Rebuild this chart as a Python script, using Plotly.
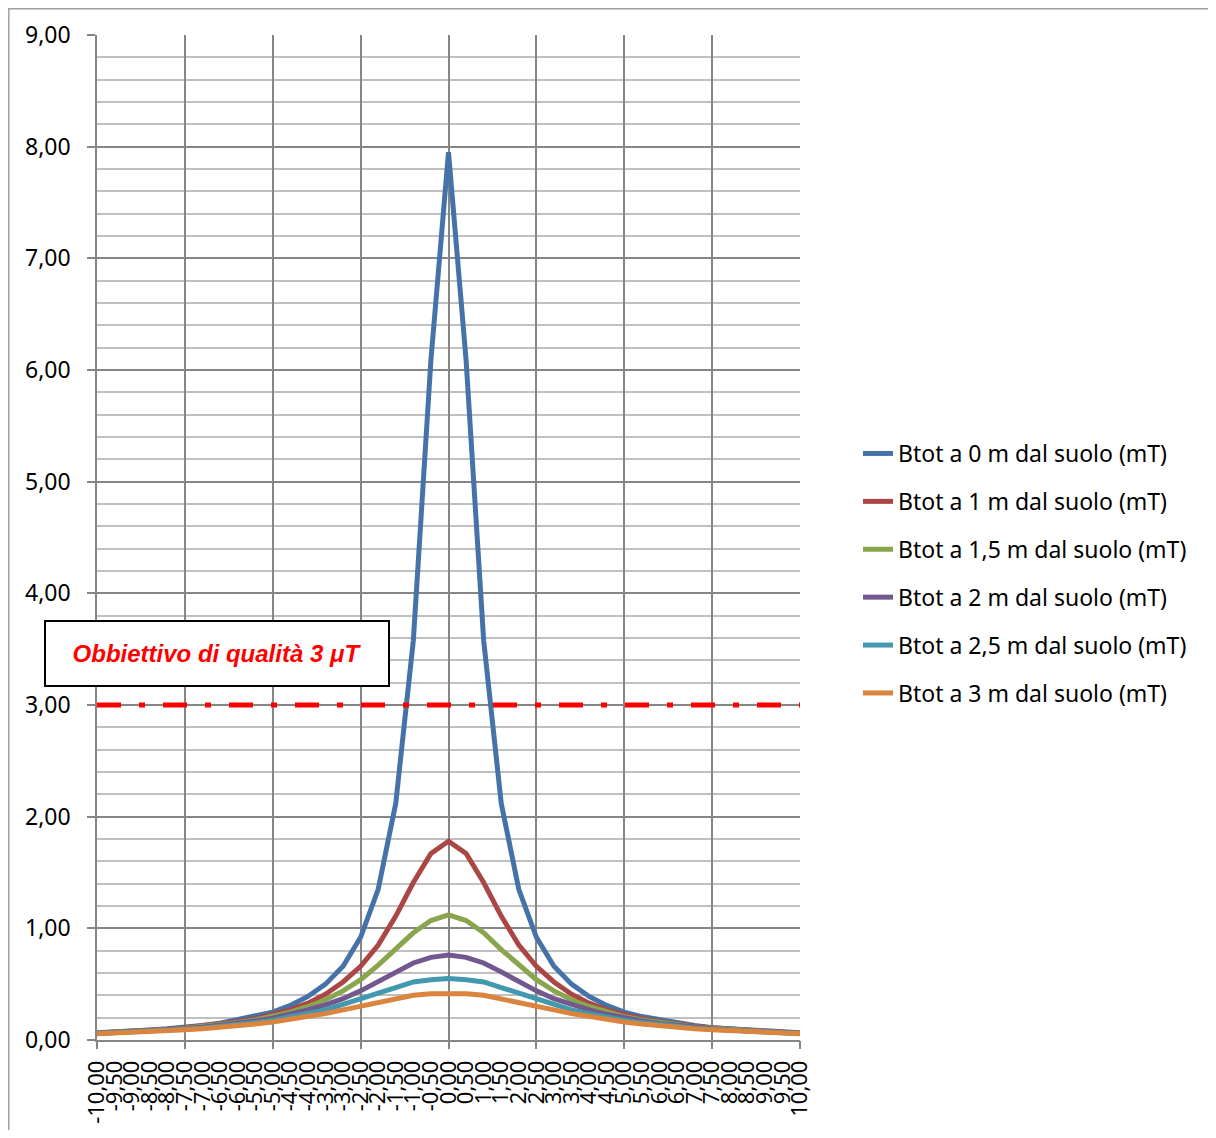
import plotly.graph_objects as go

# ---------------- data ----------------
x_values = [-10.0, -9.5, -9.0, -8.5, -8.0, -7.5, -7.0, -6.5, -6.0, -5.5,
            -5.0, -4.5, -4.0, -3.5, -3.0, -2.5, -2.0, -1.5, -1.0, -0.5,
            0.0, 0.5, 1.0, 1.5, 2.0, 2.5, 3.0, 3.5, 4.0, 4.5,
            5.0, 5.5, 6.0, 6.5, 7.0, 7.5, 8.0, 8.5, 9.0, 9.5, 10.0]

x_labels = ["-10,00", "-9,50", "-9,00", "-8,50", "-8,00", "-7,50", "-7,00", "-6,50", "-6,00", "-5,50",
            "-5,00", "-4,50", "-4,00", "-3,50", "-3,00", "-2,50", "-2,00", "-1,50", "-1,00", "-0,50",
            "0,00", "0,50", "1,00", "1,50", "2,00", "2,50", "3,00", "3,50", "4,00", "4,50",
            "5,00", "5,50", "6,00", "6,50", "7,00", "7,50", "8,00", "8,50", "9,00", "9,50", "10,00"]

series_names = ["Btot a 0 m dal suolo (mT)", "Btot a 1 m dal suolo (mT)",
                "Btot a 1,5 m dal suolo (mT)", "Btot a 2 m dal suolo (mT)",
                "Btot a 2,5 m dal suolo (mT)", "Btot a 3 m dal suolo (mT)"]

b_0m = [0.065, 0.07, 0.08, 0.09, 0.10, 0.11, 0.13, 0.15, 0.18, 0.21,
        0.25, 0.31, 0.39, 0.50, 0.66, 0.92, 1.35, 2.12, 3.58, 6.09,
        7.95,
        6.09, 3.58, 2.12, 1.35, 0.92, 0.66, 0.50, 0.39, 0.31, 0.25,
        0.21, 0.18, 0.15, 0.13, 0.11, 0.10, 0.09, 0.08, 0.07, 0.065]

b_1m = [0.063, 0.069, 0.077, 0.086, 0.096, 0.109, 0.124, 0.14, 0.165, 0.19,
        0.23, 0.27, 0.33, 0.41, 0.52, 0.66, 0.85, 1.11, 1.41, 1.67,
        1.78,
        1.67, 1.41, 1.11, 0.85, 0.66, 0.52, 0.41, 0.33, 0.27, 0.23,
        0.19, 0.165, 0.14, 0.124, 0.109, 0.096, 0.086, 0.077, 0.069, 0.063]

b_15m = [0.062, 0.068, 0.075, 0.084, 0.093, 0.105, 0.119, 0.136, 0.156, 0.18,
         0.21, 0.25, 0.30, 0.36, 0.44, 0.54, 0.67, 0.81, 0.96, 1.07,
         1.12,
         1.07, 0.96, 0.81, 0.67, 0.54, 0.44, 0.36, 0.30, 0.25, 0.21,
         0.18, 0.156, 0.136, 0.119, 0.105, 0.093, 0.084, 0.075, 0.068, 0.062]

b_2m = [0.060, 0.066, 0.073, 0.081, 0.090, 0.101, 0.114, 0.129, 0.147, 0.17,
        0.195, 0.23, 0.27, 0.315, 0.37, 0.44, 0.52, 0.61, 0.69, 0.74,
        0.76,
        0.74, 0.69, 0.61, 0.52, 0.44, 0.37, 0.315, 0.27, 0.23, 0.195,
        0.17, 0.147, 0.129, 0.114, 0.101, 0.090, 0.081, 0.073, 0.066, 0.060]

b_25m = [0.058, 0.064, 0.070, 0.078, 0.086, 0.096, 0.108, 0.121, 0.137, 0.156,
         0.178, 0.205, 0.236, 0.27, 0.32, 0.365, 0.42, 0.47, 0.52, 0.54,
         0.55,
         0.54, 0.52, 0.47, 0.42, 0.365, 0.32, 0.27, 0.236, 0.205, 0.178,
         0.156, 0.137, 0.121, 0.108, 0.096, 0.086, 0.078, 0.070, 0.064, 0.058]

b_3m = [0.057, 0.062, 0.068, 0.075, 0.082, 0.091, 0.101, 0.113, 0.127, 0.143,
        0.162, 0.184, 0.209, 0.237, 0.27, 0.30, 0.34, 0.37, 0.40, 0.415,
        0.42,
        0.415, 0.40, 0.37, 0.34, 0.30, 0.27, 0.237, 0.209, 0.184, 0.162,
        0.143, 0.127, 0.113, 0.101, 0.091, 0.082, 0.075, 0.068, 0.062, 0.057]

threshold_x = [-10.0, 10.0]
threshold_y = [3.0, 3.0]
threshold_label = "<b><i>Obbiettivo di qualità 3 μT</i></b>"

series_values = [b_0m, b_1m, b_15m, b_2m, b_25m, b_3m]
series_colors = ["#4572A7", "#AA4643", "#89A54E", "#71588F", "#4198AF", "#DB843D"]

# ---------------- figure ----------------
# page has an 8px body margin; figure is sized to fit the 1216x1138 window
OFF = 8
W, H = 1216 - 2 * OFF, 1138 - 2 * OFF
REF_L, REF_R, REF_T, REF_B = 97, 800, 35, 1040   # plot area in window pixels
L = REF_L - OFF
T = REF_T - OFF
PW = REF_R - REF_L
PH = REF_B - REF_T
R = W - L - PW
B = H - T - PH

def px_x(p):
    return (p - REF_L) / PW

def px_y(q):
    return (REF_B - q) / PH

grid_dark = "#868686"
grid_light = "#C0C0C0"
font_main = "Noto Sans"

fig = go.Figure()
for i, (name, vals, col) in enumerate(zip(series_names, series_values, series_colors)):
    fig.add_trace(go.Scatter(
        x=x_values, y=vals, name=name, mode="lines",
        line=dict(color=col, width=5),
        legendgroup=f"g{i}",
    ))

fig.add_trace(go.Scatter(
    x=threshold_x, y=threshold_y, xaxis="x2", yaxis="y", mode="lines",
    line=dict(color="#FF0000", width=5, dash="24px,18px,6px,18px"),
    showlegend=False, hoverinfo="skip",
))

fig.update_layout(
    width=W, height=H,
    margin=dict(l=L, r=R, t=T, b=B, autoexpand=False),
    paper_bgcolor="white", plot_bgcolor="white",
    separators=",.",
    font=dict(family=font_main, color="black"),
    showlegend=True,
    legend=dict(
        x=px_x(858), y=px_y(432), xanchor="left", yanchor="top",
        font=dict(family=font_main, size=23, color="black"),
        traceorder="grouped", tracegroupgap=15,
        bgcolor="rgba(0,0,0,0)",
    ),
    xaxis=dict(
        range=[-10, 10], tickmode="array", tickvals=x_values, ticktext=x_labels,
        tickangle=-90, showgrid=False, zeroline=False,
        showline=True, linecolor=grid_dark, linewidth=1.5,
        ticks="", ticklabelstandoff=10,
        tickfont=dict(family=font_main, size=22, color="black"),
    ),
    xaxis2=dict(
        overlaying="x", anchor="y", side="bottom",
        range=[-10, 10], tick0=-10, dtick=2.5,
        showgrid=True, gridcolor=grid_dark, gridwidth=1.5,
        ticks="outside", ticklen=8, tickcolor=grid_dark, tickwidth=1.5,
        showticklabels=False, zeroline=False, showline=False,
    ),
    yaxis=dict(
        range=[0, 9], tick0=0, dtick=1, tickformat=".2f",
        showgrid=True, gridcolor=grid_dark, gridwidth=1.5,
        minor=dict(dtick=0.2, showgrid=True, gridcolor=grid_light, gridwidth=1.5),
        ticks="outside", ticklen=8, tickcolor=grid_dark, tickwidth=1.5,
        showline=True, linecolor=grid_dark, linewidth=1.5,
        zeroline=False, ticklabelstandoff=12,
        tickfont=dict(family=font_main, size=23, color="black"),
    ),
    shapes=[dict(
        type="rect", xref="paper", yref="paper",
        x0=px_x(8.8), x1=px_x(1400), y0=px_y(1300), y1=px_y(8.8),
        line=dict(color="#A0A0A0", width=1.5), fillcolor="rgba(0,0,0,0)",
        layer="below",
    )],
    annotations=[dict(
        xref="paper", yref="paper", x=px_x(217), y=px_y(653.5),
        xanchor="center", yanchor="middle",
        text=threshold_label, showarrow=False,
        font=dict(family="Liberation Sans", size=24, color="#FF0000"),
        bgcolor="white", bordercolor="black", borderwidth=2, borderpad=0,
        width=342, height=63, align="center", valign="middle",
    )],
)

fig.write_html("out.html")
